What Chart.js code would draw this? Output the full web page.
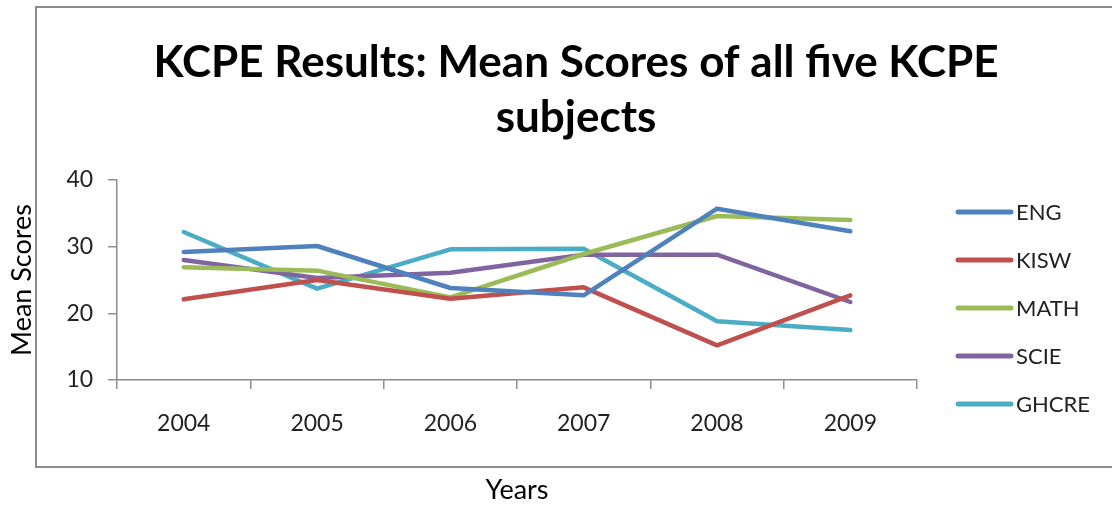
<!DOCTYPE html>
<html>
<head>
<meta charset="utf-8">
<script src="https://cdn.jsdelivr.net/npm/chart.js@4/dist/chart.umd.min.js"></script>
<style>
  html, body { margin: 0; padding: 0; background: #fff; }
  #wrap { width: 1112px; height: 506px; position: relative; }
</style>
</head>
<body>
<div id="wrap"><canvas id="chart"></canvas></div>
<script>
// data
const years = ["2004", "2005", "2006", "2007", "2008", "2009"];
const eng   = [29.2, 30.1, 23.8, 22.7, 35.7, 32.3];
const kisw  = [22.1, 25.0, 22.2, 23.9, 15.2, 22.7];
const math  = [26.9, 26.4, 22.4, 28.9, 34.6, 34.0];
const scie  = [28.0, 25.3, 26.1, 28.8, 28.8, 21.7];
const ghcre = [32.2, 23.7, 29.6, 29.7, 18.8, 17.5];
const yTicks = [10, 20, 30, 40];

const titleLines = ["KCPE Results: Mean Scores of all five KCPE", "subjects"];
const FONT = "Lato, 'Open Sans', sans-serif";
const AXIS_GRAY = "#8c8c8c";

const line = (label, data, color) => ({
    label, data,
    borderColor: color,
    backgroundColor: color,
    borderWidth: 4.5,
    borderJoinStyle: "round",
    borderCapStyle: "round",
    tension: 0,
    pointRadius: 0,
    fill: false
});

// frame, title and legend drawn by hand (excel style)
const decor = {
    id: "decor",
    beforeDraw(chart) {
        const c = chart.ctx;
        c.save();
        c.strokeStyle = AXIS_GRAY;
        c.lineWidth = 2;
        c.strokeRect(36, 7, 1100, 460);
        c.restore();
    },
    afterDraw(chart) {
        const c = chart.ctx;
        c.save();
        c.fillStyle = "#000";
        c.font = "bold 44px " + FONT;
        c.textAlign = "center";
        c.textBaseline = "middle";
        titleLines.forEach((t, i) => c.fillText(t, 576, 63 + i * 55));

        c.font = "22px " + FONT;
        c.textAlign = "left";
        chart.data.datasets.forEach((ds, i) => {
            const y = 212 + i * 48;
            c.strokeStyle = ds.borderColor;
            c.lineWidth = 5;
            c.lineCap = "round";
            c.beginPath();
            c.moveTo(958, y);
            c.lineTo(1011, y);
            c.stroke();
            c.fillStyle = "#222";
            c.fillText(ds.label, 1016, y + 1);
        });
        c.restore();
    }
};

new Chart(document.getElementById("chart"), {
    type: "line",
    data: {
        labels: years,
        datasets: [
            line("ENG", eng, "#4F81BD"),
            line("KISW", kisw, "#C0504D"),
            line("MATH", math, "#9BBB59"),
            line("SCIE", scie, "#8064A2"),
            line("GHCRE", ghcre, "#4BACC6")
        ]
    },
    options: {
        responsive: true,
        maintainAspectRatio: false,
        animation: false,
        layout: { padding: { top: 180, left: 5, right: 195, bottom: 0 } },
        plugins: {
            legend: { display: false },
            title: { display: false },
            tooltip: { enabled: false }
        },
        scales: {
            x: {
                offset: true,
                grid: { offset: true, drawOnChartArea: false, tickLength: 9, color: AXIS_GRAY, lineWidth: 1.5 },
                border: { color: AXIS_GRAY, width: 1.5 },
                ticks: { color: "#222", padding: 21, font: { family: FONT, size: 23 } },
                title: { display: true, text: "Years", color: "#000", font: { family: FONT, size: 27 }, padding: { top: 15, bottom: 0 } }
            },
            y: {
                min: yTicks[0],
                max: yTicks[yTicks.length - 1],
                afterBuildTicks: (s) => { s.ticks = yTicks.map(v => ({ value: v })); },
                grid: { drawOnChartArea: false, tickLength: 9, color: AXIS_GRAY, lineWidth: 1.5 },
                border: { color: AXIS_GRAY, width: 1.5 },
                ticks: { color: "#222", padding: 15, font: { family: FONT, size: 23 } },
                title: { display: true, text: "Mean Scores", color: "#000", font: { family: FONT, size: 27 }, padding: { top: 1, bottom: 13 } }
            }
        }
    },
    plugins: [decor]
});
</script>
</body>
</html>
